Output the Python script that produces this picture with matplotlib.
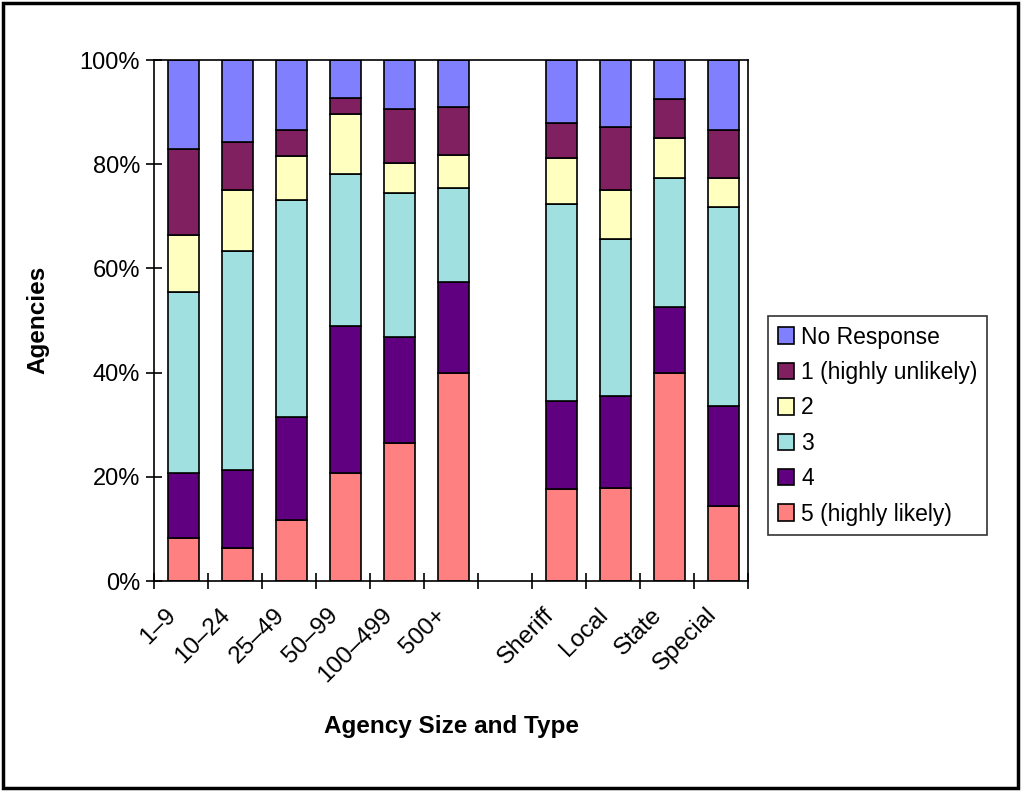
import matplotlib
matplotlib.use('Agg')
import matplotlib.pyplot as plt
import matplotlib.transforms as mtransforms
from matplotlib.patches import Patch, Rectangle
import numpy as np

plt.rcParams['font.family'] = ['Liberation Sans', 'DejaVu Sans']

# Kategorie (pusta pozycja między wielkością a typem agencji)
categories = ['1–9', '10–24', '25–49', '50–99', '100–499', '500+',
              '', 'Sheriff', 'Local', 'State', 'Special']

# Udziały procentowe (od dołu do góry)
likely_5 = [8.2, 6.3, 11.7, 20.7, 26.5, 39.9, 0, 17.6, 17.8, 39.9, 14.3]
score_4 = [12.6, 15.0, 19.8, 28.2, 20.3, 17.4, 0, 17.0, 17.8, 12.6, 19.3]
score_3 = [34.7, 42.0, 41.6, 29.2, 27.7, 18.1, 0, 37.7, 30.0, 24.9, 38.2]
score_2 = [11.0, 11.7, 8.5, 11.5, 5.8, 6.4, 0, 8.8, 9.4, 7.6, 5.5]
unlikely_1 = [16.5, 9.3, 5.0, 3.2, 10.2, 9.1, 0, 6.9, 12.1, 7.5, 9.3]
no_response = [17.0, 15.7, 13.4, 7.2, 9.5, 9.1, 0, 12.0, 12.9, 7.5, 13.4]

series = [
    ('5 (highly likely)', likely_5, '#FF8080'),
    ('4', score_4, '#600080'),
    ('3', score_3, '#A0E0E0'),
    ('2', score_2, '#FFFFC0'),
    ('1 (highly unlikely)', unlikely_1, '#802060'),
    ('No Response', no_response, '#8080FF'),
]

fig = plt.figure(figsize=(10.22, 7.91), dpi=100)
ax = fig.add_axes([154 / 1022, 1 - 581 / 791, 594 / 1022, 521 / 791])

x = np.arange(len(categories))
bottom = np.zeros(len(categories))
for name, vals, color in series:
    vals = np.array(vals, dtype=float)
    mask = vals > 0
    ax.bar(x[mask] + 0.04, vals[mask], width=0.58, bottom=bottom[mask],
           color=color, edgecolor='black', linewidth=1.2, label=name, zorder=2)
    bottom += vals

ax.set_xlim(-0.5, len(categories) - 0.5)
ax.set_ylim(0, 100)
ax.set_yticks([0, 20, 40, 60, 80, 100])
ax.set_yticklabels(['0%', '20%', '40%', '60%', '80%', '100%'], fontsize=17)
ax.tick_params(axis='y', direction='inout', length=12, width=1.2, pad=4)

# Znaczniki osi X między kategoriami, etykiety w środku kategorii
ax.set_xticks(np.arange(-0.5, len(categories)), minor=True)
ax.tick_params(axis='x', which='minor', direction='inout', length=12, width=1.2)
ax.set_xticks(x)
ax.set_xticklabels(categories, fontsize=17.5, rotation=45, ha='right',
                   va='center', rotation_mode='anchor')
ax.tick_params(axis='x', which='major', length=0, pad=22)
offset = mtransforms.ScaledTranslation(-8 / 100, 0, fig.dpi_scale_trans)
for lbl in ax.get_xticklabels():
    lbl.set_transform(lbl.get_transform() + offset)

for sp in ax.spines.values():
    sp.set_linewidth(1.2)
    sp.set_zorder(3)

fig.text(38 / 1022, 1 - 320 / 791, 'Agencies', rotation=90, fontsize=17.5,
         fontweight='bold', ha='center', va='center')
fig.text(452 / 1022, 1 - 727 / 791, 'Agency Size and Type', fontsize=17.5,
         fontweight='bold', ha='center', va='center')

# Legenda w kolejności odwrotnej
handles = [Patch(facecolor=c, edgecolor='black', linewidth=1.2, label=n)
           for n, v, c in series[::-1]]
leg = fig.legend(handles=handles, loc='upper left',
                 bbox_to_anchor=(768 / 1022, 1 - 316 / 791), fontsize=16.5,
                 frameon=True, fancybox=False, edgecolor='black',
                 handlelength=0.72, handleheight=0.72, handletextpad=0.3,
                 labelspacing=0.54, borderpad=0.42, borderaxespad=0)
leg.get_frame().set_linewidth(1.2)

# Ramka wokół całego obrazka
fig.patches.append(Rectangle((3 / 1022, 3 / 791), 1015 / 1022, 785 / 791,
                             transform=fig.transFigure, fill=False,
                             edgecolor='black', linewidth=2.5))

fig.savefig('out.png', dpi=100)
